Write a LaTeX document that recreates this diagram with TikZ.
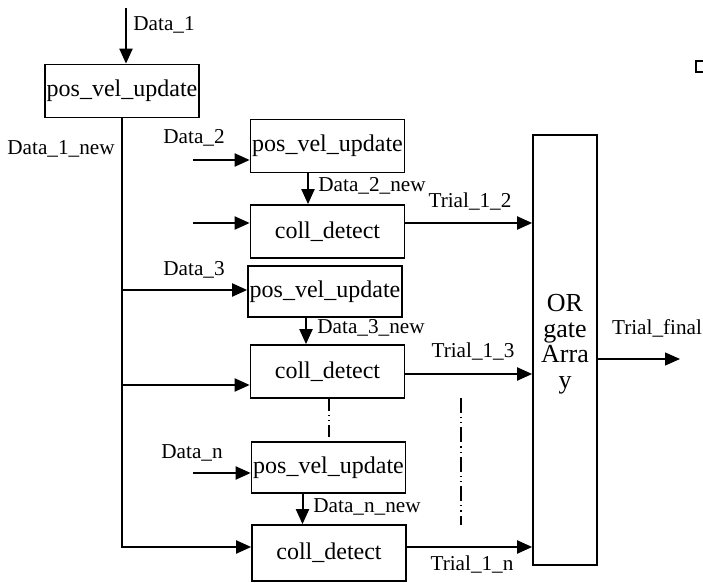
\documentclass[tikz,border=0pt]{standalone}
\usepackage{fontspec}
\setmainfont{Liberation Serif}
\usetikzlibrary{arrows.meta}

\tikzset{
    block/.style={draw, line width=0.85pt, inner sep=0pt, minimum width=77pt,
        minimum height=26.5pt, font=\fontsize{12}{14}\selectfont},
    sig/.style={line width=1pt, -{Triangle[length=7.5pt,width=6.5pt]}},
    lbl/.style={inner sep=0pt, font=\fontsize{10.6}{12}\selectfont},
    gap/.style={line width=0.6pt, dash pattern=on 6pt off 2pt on 0.6pt off 2pt on 0.6pt off 2pt}
}

\begin{document}
\begin{tikzpicture}[x=0.5pt, y=-0.5pt]

        \useasboundingbox (0,0) rectangle (703,583);

        % blocks
        \node[block] (pvu1) at (122, 91) {pos\_vel\_update};
        \node[block] (pvu2) at (327.5, 146) {pos\_vel\_update};
        \node[block] (cd2) at (327.5, 231.5) {coll\_detect};
        \node[block, minimum height=25.5pt] (pvu3) at (325, 291.5) {pos\_vel\_update};
        \node[block] (cd3) at (327.5, 371.5) {coll\_detect};
        \node[block, minimum height=25.5pt] (pvun) at (328.5, 467.5) {pos\_vel\_update};
        \node[block, minimum height=28pt] (cdn) at (329, 553) {coll\_detect};

        \node[draw, line width=0.85pt, minimum width=32pt, minimum height=215pt] (orbox) at (565, 350) {};
        \node[align=center, inner sep=0pt, font=\fontsize{13}{12.8}\selectfont] (ortext) at (565, 344)
            {OR\\gate\\Arra\\y};

        % cut-off box at the top right
        \draw[line width=0.85pt] (696, 61) rectangle (720, 72);

        % free ends
        \coordinate (in1) at (126, 8);
        \coordinate (in2) at (193, 160);
        \coordinate (q2) at (193, 223);
        \coordinate (t3) at (122, 290);
        \coordinate (c3) at (122, 385);
        \coordinate (r3) at (404, 374);
        \coordinate (inn) at (193, 473);
        \coordinate (cn) at (122, 547);
        \coordinate (tf) at (680, 359);

        % inputs
        \draw[sig] (in1) -- (in1 |- pvu1.north);
        \draw[sig] (in2) -- (in2 -| pvu2.west);
        \draw[sig] (q2) -- (q2 -| cd2.west);
        \draw[sig] (inn) -- (inn -| pvun.west);

        % Data_1_new bus
        \draw[sig] (pvu1.south) |- (cn -| cdn.west);
        \draw[sig] (t3) -- (t3 -| pvu3.west);
        \draw[sig] (c3) -- (c3 -| cd3.west);

        % updated data
        \draw[sig] ([xshift=-9.75pt]pvu2.south) -- ([xshift=-9.75pt]pvu2.south |- cd2.north);
        \draw[sig] ([xshift=-9.5pt]pvu3.south) -- ([xshift=-9.5pt]pvu3.south |- cd3.north);
        \draw[sig] ([xshift=-13pt]pvun.south) -- ([xshift=-13pt]pvun.south |- cdn.north);

        % trials
        \draw[sig] (q2 -| cd2.east) -- (q2 -| orbox.west);
        \draw[sig] (r3 -| cd3.east) -- (r3 -| orbox.west);
        \draw[sig] (cn -| cdn.east) -- (cn -| orbox.west);
        \draw[sig, line width=0.7pt] (tf -| orbox.east) -- (tf);

        % more stages
        \draw[gap] ([xshift=0.75pt]cd3.south) -- ([xshift=0.25pt]pvun.north);
        \coordinate (g1) at (461, 398);
        \coordinate (g2) at (461, 525);
        \draw[gap, dash pattern=on 7.5pt off 2pt on 0.6pt off 2pt on 0.6pt off 2pt] (g1) -- (g2);

        % labels
        \node[lbl] (l1) at (164, 25) {Data\_1};
        \node[lbl] (l1n) at (61, 149) {Data\_1\_new};
        \node[lbl] (l2) at (194, 138) {Data\_2};
        \node[lbl] (l2n) at (372, 186) {Data\_2\_new};
        \node[lbl] (t12) at (470, 202) {Trial\_1\_2};
        \node[lbl] (l3) at (194, 270) {Data\_3};
        \node[lbl] (l3n) at (371, 328) {Data\_3\_new};
        \node[lbl] (t13) at (473, 352) {Trial\_1\_3};
        \node[lbl] (ln) at (192, 453) {Data\_n};
        \node[lbl] (lnn) at (367, 507) {Data\_n\_new};
        \node[lbl] (t1n) at (472, 565) {Trial\_1\_n};
        \node[lbl] (tfin) at (657, 328) {Trial\_final};

\end{tikzpicture}
\end{document}
